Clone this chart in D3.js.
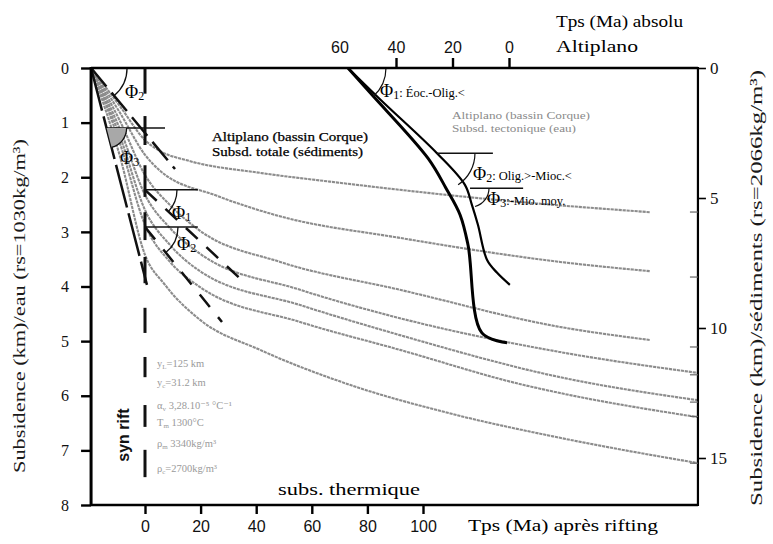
<!DOCTYPE html>
<html><head><meta charset="utf-8">
<script src="https://cdn.jsdelivr.net/npm/d3@7"></script>
<style>body{margin:0;background:#fff}svg{display:block}</style>
</head><body>
<svg id="c" width="773" height="544"></svg>
<script>
// ---------- data ----------
const depthTicks = [0,1,2,3,4,5,6,7,8];          // km, water-loaded (left)
const sedTicks   = [0,5,10,15];                   // km, sediment-loaded (right)
const riftTicks  = [0,20,40,60,80,100];           // Ma after rifting (bottom)
const absLabels  = [60,40,20,0];                  // Ma absolute (top)
const absTickMarks = [40,20,0];
const sedEnds    = [5.54,8.04,10.73,11.8,12.85,13.4,15.2]; // small marks on right axis

// total subsidence curves [Ma after rifting, km water]
const curve1 = [[-19.4,0],[-9,0.70],[0,1.32],[5.4,1.52],[15.1,1.69],[41.4,1.92],[66.5,2.08],[91.7,2.23],[127.7,2.42],[181.7,2.64]];
const curve2 = [[-19.4,0],[-9,0.82],[0,1.59],[5.4,1.88],[25.9,2.34],[47.5,2.70],[91.7,3.11],[149.3,3.55],[181.7,3.72]];
const curve3 = [[-19.4,0],[-9,0.97],[0,1.96],[9,2.51],[19.8,2.98],[48.6,3.55],[91.7,4.06],[149.3,4.74],[181.7,4.98]];
const curve4 = [[-19.4,0],[-9,1.12],[0,2.32],[9,2.93],[19.8,3.40],[55.8,4.06],[91.7,4.58],[149.3,5.20],[198.6,5.58]];
const curve5 = [[-19.4,0],[-9,1.25],[0,2.60],[9,3.24],[19.8,3.72],[55.8,4.34],[91.7,4.89],[149.3,5.66],[198.6,6.08]];
const curve6 = [[-19.4,0],[-9,1.38],[0,2.87],[9,3.55],[19.8,4.01],[55.8,4.65],[91.7,5.16],[136,5.80],[149.3,5.95],[198.6,6.39]];
const curve7 = [[-19.4,0],[-9,1.62],[0,3.42],[7.2,3.97],[19.8,4.61],[41.4,5.16],[73.7,5.80],[107.9,6.30],[149.3,6.77],[198.6,7.23]];
const curves = [curve1,curve2,curve3,curve4,curve5,curve6,curve7];

// tectonic subsidence [Ma absolute, km water]
const tectA = [[57,0],[48.5,0.49],[28.7,1.65],[22.3,2.20],[17.3,2.69],[14.5,3.24],[9.6,4.85],[0.7,5.03]];
const tectB = [[57,0],[45.3,0.59],[25.5,1.56],[15.6,2.14],[13.1,2.51],[11.0,2.87],[7.8,3.51],[4.2,3.75],[-0.3,3.97]];

// slope (tangent) segments [Ma after rifting, km]
const tanTop   = [[-19.4,0],[10.8,1.85]];
const tanSteep = [[-19.4,0],[0.7,3.97]];
const tanPhi1  = [[0,2.23],[36,3.94]];
const tanPhi2  = [[0,2.91],[27.7,4.65]];
// syn-rift vertical line pieces at t=0 [km from, km to]
const synRift = [[0,0.47],[0.88,1.41],[1.78,2.36],[2.64,3.15],[3.46,3.94],[4.39,4.85],[5.29,5.66],[6.17,6.57],[6.99,7.49]];

const params = [["y","L","=125 km"],["y","c","=31.2 km"],["α","v"," 3,28.10\u207B\u2075 °C\u207B\u00B9"],["T","m"," 1300°C"],["ρ","m"," 3340kg/m³"],["ρ","c","=2700kg/m³"]];

// ---------- scales ----------
const tMin = -19.4, tMax = 198.9;
const x    = d3.scaleLinear().domain([0,100]).range([145,423]);
const xAbs = d3.scaleLinear().domain([0,40]).range([509,396]);
const y    = d3.scaleLinear().domain([0,8]).range([68,505]);
const ySed = d3.scaleLinear().domain([0,15]).range([68,458]);

const svg = d3.select('#c');
const SERIF = "'Liberation Serif','DejaVu Serif',serif";
const SANS  = "'Liberation Sans',Arial,sans-serif";

function fit(sel, len){
  sel.attr('textLength', len).attr('lengthAdjust','spacingAndGlyphs');
  return sel;
}

const X0 = x(tMin), X1 = x(tMax), Y0 = y(0), Y1 = y(8);

// ---------- gray curves ----------
const lineRift = d3.line().x(d=>x(d[0])).y(d=>y(d[1])).curve(d3.curveMonotoneX);
svg.append('g').selectAll('path').data(curves).join('path')
  .attr('d', lineRift).attr('fill','none').attr('stroke','#8c8c8c')
  .attr('stroke-width',2.1).attr('stroke-dasharray','3.2,0.8');

// ---------- tangent dashed lines ----------
const lin = d3.line().x(d=>x(d[0])).y(d=>y(d[1]));
[[tanTop,'24,8'],[tanSteep,'44,6'],[tanPhi1,'16,12'],[tanPhi2,'16,13']].forEach(([p,da])=>{
  svg.append('path').attr('d',lin(p)).attr('fill','none').attr('stroke','#111')
    .attr('stroke-width',2.5).attr('stroke-dasharray',da);
});

// syn-rift vertical dashes
svg.append('g').selectAll('line').data(synRift).join('line')
  .attr('x1',x(0)).attr('x2',x(0)).attr('y1',d=>y(d[0])).attr('y2',d=>y(d[1]))
  .attr('stroke','#111').attr('stroke-width',3);

// horizontal reference lines (Φ markers)
const hL = [[1.10,-13.8,7.2],[2.23,0,19],[2.91,0,19]];
svg.append('g').selectAll('line').data(hL).join('line')
  .attr('x1',d=>x(d[1])).attr('x2',d=>x(d[2])).attr('y1',d=>y(d[0])).attr('y2',d=>y(d[0]))
  .attr('stroke','#111').attr('stroke-width',1.5);

function ang(p){ return Math.atan2(y(p[1][1])-y(p[0][1]), x(p[1][0])-x(p[0][0])); }
function arcPath(cx,cy,r,a){ const p=d3.path(); p.moveTo(cx+r,cy); p.arc(cx,cy,r,0,a); return p.toString(); }
function sector(cx,cy,r,a){ const p=d3.path(); p.moveTo(cx,cy); p.lineTo(cx+r,cy); p.arc(cx,cy,r,0,a); p.closePath(); return p.toString(); }

// Φ3 filled sector
const c3x = x(-13.8), c3y = y(1.10);
svg.append('path').attr('d',sector(c3x,c3y,20,ang(tanSteep))).attr('fill','#a8a8a8').attr('stroke','none');
svg.append('path').attr('d',arcPath(c3x,c3y,20,ang(tanSteep))).attr('fill','none').attr('stroke','#111').attr('stroke-width',1.3);
svg.append('path').attr('d',arcPath(x(tMin),y(0),36,ang(tanTop))).attr('fill','none').attr('stroke','#111').attr('stroke-width',1.3);
svg.append('path').attr('d',arcPath(x(0),y(2.23),32,ang(tanPhi1))).attr('fill','none').attr('stroke','#111').attr('stroke-width',1.3);
svg.append('path').attr('d',arcPath(x(0),y(2.91),33,ang(tanPhi2))).attr('fill','none').attr('stroke','#111').attr('stroke-width',1.3);

// ---------- tectonic curves ----------
const lineAbs = d3.line().x(d=>xAbs(d[0])).y(d=>y(d[1])).curve(d3.curveCatmullRom.alpha(0.5));
svg.append('path').attr('d',lineAbs(tectA)).attr('fill','none').attr('stroke','#000').attr('stroke-width',3).attr('stroke-linejoin','round');
svg.append('path').attr('d',lineAbs(tectB)).attr('fill','none').attr('stroke','#000').attr('stroke-width',2.2).attr('stroke-linejoin','round');

const angA = Math.atan2(y(tectA[1][1])-y(0), xAbs(tectA[1][0])-xAbs(57));
svg.append('path').attr('d',arcPath(xAbs(57),y(0),38,angA)).attr('fill','none').attr('stroke','#111').attr('stroke-width',1.2);
// Φ2 / Φ3 horizontals on tectonic curve
const hT = [[1.56,25.5,5.7],[2.20,13.8,-5.0]];
svg.append('g').selectAll('line').data(hT).join('line')
  .attr('x1',d=>xAbs(d[1])).attr('x2',d=>xAbs(d[2])).attr('y1',d=>y(d[0])).attr('y2',d=>y(d[0]))
  .attr('stroke','#111').attr('stroke-width',1.4);
svg.append('path').attr('d',arcPath(xAbs(25.5),y(1.56),38,0.98)).attr('fill','none').attr('stroke','#111').attr('stroke-width',1.2);
svg.append('path').attr('d',arcPath(xAbs(13.8),y(2.20),19,1.3)).attr('fill','none').attr('stroke','#111').attr('stroke-width',1.2);

// ---------- frame & axes ----------
svg.append('line').attr('x1',X0).attr('x2',X1).attr('y1',Y0).attr('y2',Y0).attr('stroke','#000').attr('stroke-width',2.6);
svg.append('line').attr('x1',X0).attr('x2',X1).attr('y1',Y1).attr('y2',Y1).attr('stroke','#000').attr('stroke-width',2.6);
svg.append('line').attr('x1',X0).attr('x2',X0).attr('y1',Y0-1).attr('y2',Y1+1).attr('stroke','#000').attr('stroke-width',3);
svg.append('line').attr('x1',X1).attr('x2',X1).attr('y1',Y0-1).attr('y2',Y1+1).attr('stroke','#000').attr('stroke-width',2.2);

function styleAxis(g, font, size, sw){
  g.select('.domain').remove();
  g.selectAll('.tick line').attr('stroke','#000').attr('stroke-width',sw);
  g.selectAll('.tick text').attr('font-family',font).attr('font-size',size).attr('fill','#111');
}
const gL = svg.append('g').attr('transform',`translate(${X0},0)`)
  .call(d3.axisLeft(y).tickValues(depthTicks).tickSize(10).tickPadding(12).tickFormat(d3.format('d')));
styleAxis(gL, SERIF, 16, 2.4);
const gR = svg.append('g').attr('transform',`translate(${X1},0)`)
  .call(d3.axisRight(ySed).tickValues(sedTicks).tickSize(8).tickPadding(4).tickFormat(d3.format('d')));
styleAxis(gR, SERIF, 17, 1.6);
const gB = svg.append('g').attr('transform',`translate(0,${Y1})`)
  .call(d3.axisBottom(x).tickValues(riftTicks).tickSize(9).tickPadding(7).tickFormat(d3.format('d')));
styleAxis(gB, SANS, 16, 2.4);
const gT = svg.append('g').attr('transform',`translate(0,${Y0})`)
  .call(d3.axisTop(xAbs).tickValues(absTickMarks).tickSize(10).tickFormat(''));
styleAxis(gT, SANS, 16, 2.4);
const gT2 = svg.append('g').attr('transform',`translate(0,${Y0})`)
  .call(d3.axisTop(xAbs).tickValues(absLabels).tickSize(0).tickPadding(15).tickFormat(d3.format('d')));
styleAxis(gT2, SANS, 16, 0);
gT2.selectAll('.tick line').remove();

// right-axis small marks
svg.append('g').selectAll('line').data(sedEnds).join('line')
  .attr('x1',X1-8).attr('x2',X1).attr('y1',d=>ySed(d)).attr('y2',d=>ySed(d))
  .attr('stroke','#666').attr('stroke-width',1.2);

// ---------- texts ----------
function txt(xp,yp,s,size,opt={}){
  const t = svg.append('text').attr('x',xp).attr('y',yp).text(s)
    .attr('font-family',opt.font||SERIF).attr('font-size',size).attr('fill',opt.fill||'#000');
  if(opt.weight) t.attr('font-weight',opt.weight);
  if(opt.anchor) t.attr('text-anchor',opt.anchor);
  if(opt.len) fit(t,opt.len);
  return t;
}
// axis titles
const lt = svg.append('text').attr('transform','translate(25,306) rotate(-90)').attr('text-anchor','middle')
  .attr('font-family',SERIF).attr('font-size',17).attr('fill','#1a1a1a')
  .text('Subsidence (km)/eau (rs=1030kg/m³)');
fit(lt,334);
const rt = svg.append('text').attr('transform','translate(762,288) rotate(-90)').attr('text-anchor','middle')
  .attr('font-family',SERIF).attr('font-size',17).attr('fill','#1a1a1a')
  .text('Subsidence (km)/sédiments (rs=2066kg/m³)');
fit(rt,436);

txt(468,531,'Tps (Ma) après rifting',16,{len:190});
txt(556,27,'Tps (Ma) absolu',16,{len:127});
txt(556,52,'Altiplano',16,{len:82});
txt(278,495,'subs. thermique',17,{len:142});
txt(212,141,'Altiplano (bassin Corque)',12.5,{len:156}).attr('stroke','#000').attr('stroke-width',0.25);
txt(212,156,'Subsd. totale (sédiments)',12.5,{len:151}).attr('stroke','#000').attr('stroke-width',0.25);
txt(452,119,'Altiplano (bassin Corque)',10.5,{len:138,fill:'#8a8a8a'});
txt(452,132,'Subsd. tectonique (eau)',10.5,{len:124,fill:'#8a8a8a'});

// syn rift
svg.append('text').attr('transform','translate(129,435) rotate(-90)').attr('text-anchor','middle')
  .attr('font-family',SANS).attr('font-weight','bold').attr('font-size',16).attr('fill','#111').text('syn rift');

// Φ labels
function phi(xp,yp,n,rest){
  const t = svg.append('text').attr('x',xp).attr('y',yp).attr('font-family',SERIF).attr('fill','#000');
  t.append('tspan').attr('font-size',18).text('Φ');
  t.append('tspan').attr('font-size',12).attr('dy',2).text(n);
  if(rest) t.append('tspan').attr('font-size',12.5).attr('dy',-2).text(rest);
  return t;
}
phi(125,98,'2');
phi(120,164,'3');
phi(172,219,'1');
phi(177,250,'2');
phi(380,97,'1',': Éoc.-Olig.<');
phi(473,180,'2',': Olig.>-Mioc.<');
phi(487,205,'3',':-Mio. moy.');

// parameters (faint)
const py = [367,386,409,426,447,472];
params.forEach((p,i)=>{
  const t = svg.append('text').attr('x',157).attr('y',py[i]).attr('font-family',SERIF).attr('font-size',10.5).attr('fill','#9a9a9a');
  t.append('tspan').text(p[0]);
  t.append('tspan').attr('font-size',7).attr('dy',2).text(p[1]);
  t.append('tspan').attr('dy',-2).text(p[2]);
});
</script>
</body></html>
